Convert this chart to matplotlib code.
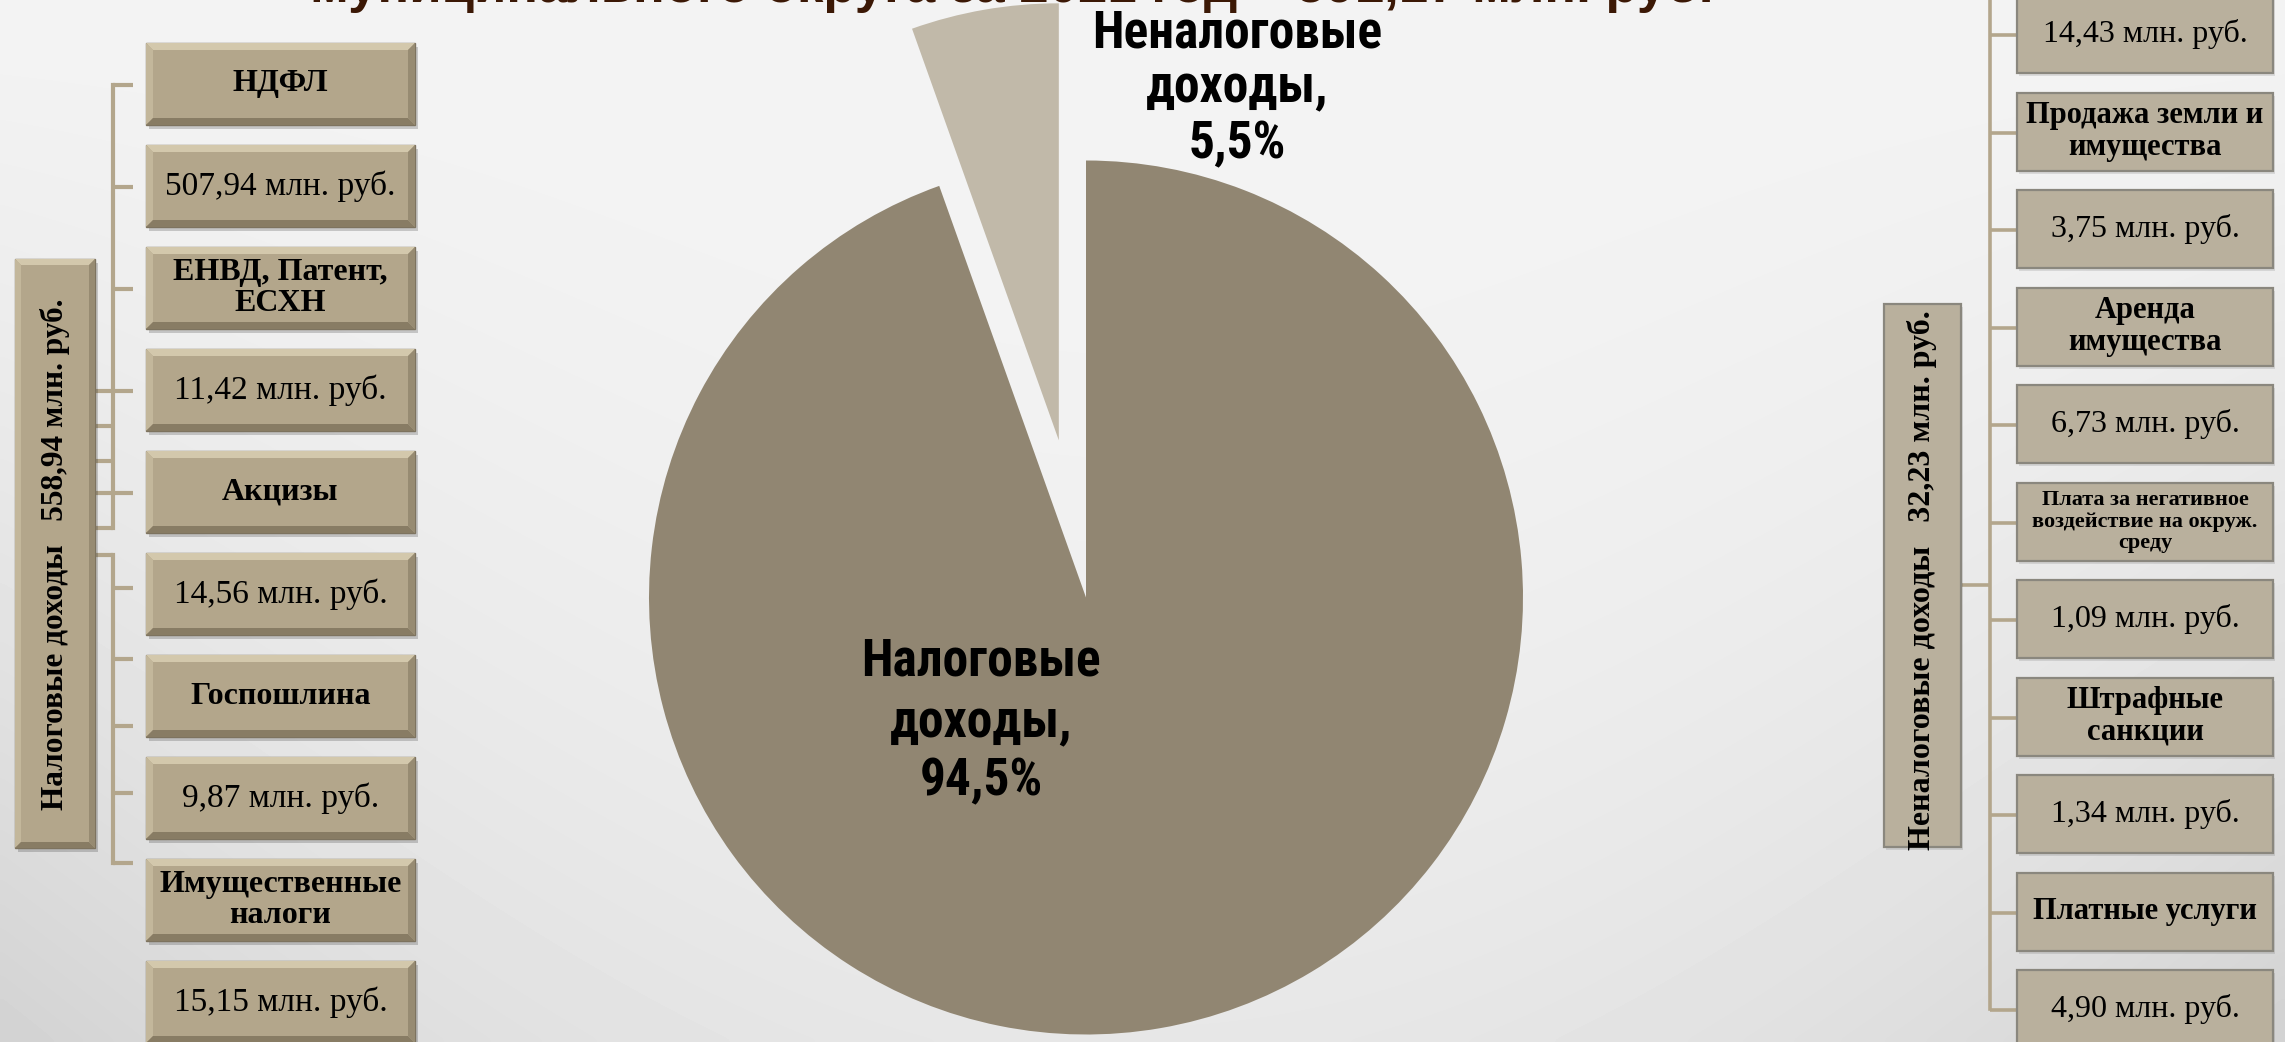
import numpy as np
import matplotlib
matplotlib.use('Agg')
import matplotlib.pyplot as plt
from matplotlib.patches import Rectangle, Polygon
from matplotlib import font_manager as fm

# ---------------- data ----------------
pie_categories = ['Налоговые доходы', 'Неналоговые доходы']
pie_values = [558.94, 32.23]
pie_colors = ['#918672', '#c1b9a9']

tax_labels = ['НДФЛ', 'ЕНВД, Патент,\nЕСХН', 'Акцизы', 'Госпошлина', 'Имущественные\nналоги']
tax_values = [507.94, 11.42, 14.56, 9.87, 15.15]

nontax_labels = ['Продажа земли и\nимущества', 'Аренда\nимущества',
                 'Плата за негативное\nвоздействие на окруж.\nсреду',
                 'Штрафные\nсанкции', 'Платные услуги']
nontax_values = [14.43, 3.75, 6.73, 1.09, 1.34, 4.90]

title_text = 'муниципального округа за 2021 год – 591,17 млн. руб.'

# ---------------- fonts ----------------
names = {f.name for f in fm.fontManager.ttflist}
cond_font = next((n for n in ['Liberation Sans Narrow', 'Roboto Condensed', 'DejaVu Sans']
                  if n in names), 'DejaVu Sans')
serif = ['Liberation Serif', 'DejaVu Serif']


def fmt(v):
    return f"{v:.2f}".replace('.', ',') + ' млн. руб.'


W, H = 2285, 1042
fig = plt.figure(figsize=(W / 100, H / 100), dpi=100)
ax = fig.add_axes([0, 0, 1, 1])

# background gradient
yy, xx = np.mgrid[0:1:200j, 0:1:400j]
bg = 0.955 - 0.05 * yy ** 2 - 0.08 * (np.abs(xx - 0.5) * 2) ** 2 * yy
ax.imshow(bg, cmap='gray', vmin=0, vmax=1, extent=(0, W, 0, H), origin='upper',
          aspect='auto', zorder=0, interpolation='bicubic')

# ---------------- pie ----------------
cx, cy, R = 1086, H - 597.5, 437
wedges, _ = ax.pie(pie_values, colors=pie_colors, startangle=90, counterclock=False,
                   explode=[0, 0.365 * R], center=(cx, cy), radius=R,
                   wedgeprops=dict(linewidth=0))
for w in wedges:
    w.set_zorder(2)

total = sum(pie_values)
pct = [f"{v / total * 100:.1f}".replace('.', ',') + '%' for v in pie_values]
cats = [c.split(' ') for c in pie_categories]
cond_kw = dict(fontfamily=cond_font, fontweight='bold', color='black', ha='center',
               va='center', zorder=6)
if cond_font == 'DejaVu Sans':
    cond_kw['fontstretch'] = 'condensed'
# tax label (inside big slice)
for txt, yt in zip([cats[0][0], cats[0][1] + ',', pct[0]], [662, 723, 781]):
    ax.text(981, H - yt, txt, fontsize=37, **cond_kw)
# non-tax label (outside, top)
for txt, yt in zip([cats[1][0], cats[1][1] + ',', pct[1]], [33, 88, 144]):
    ax.text(1237, H - yt, txt, fontsize=37, **cond_kw)

# ---------------- title (cut at top) ----------------
ax.text(1012, H - 2, title_text, fontsize=38, fontweight='bold', color='#3b1805',
        fontfamily=['Liberation Sans', 'DejaVu Sans'], ha='center', va='baseline', zorder=5)


# ---------------- helpers ----------------
def bevel_box(x0, top, w, h, b=7):
    y1 = H - top
    y0 = y1 - h
    x1 = x0 + w
    ax.add_patch(Rectangle((x0 + 3, y0 - 4), w, h, fc='black', alpha=0.18, lw=0, zorder=3))
    ax.add_patch(Rectangle((x0, y0), w, h, fc='#b3a68b', ec='#7d735f', lw=1, zorder=3))
    ax.add_patch(Polygon([(x0, y1), (x1, y1), (x1 - b, y1 - b), (x0 + b, y1 - b)],
                         fc='#d3c8ac', lw=0, zorder=4))
    ax.add_patch(Polygon([(x0, y0), (x0, y1), (x0 + b, y1 - b), (x0 + b, y0 + b)],
                         fc='#c3b79b', lw=0, zorder=4))
    ax.add_patch(Polygon([(x0, y0), (x1, y0), (x1 - b, y0 + b), (x0 + b, y0 + b)],
                         fc='#887c64', lw=0, zorder=4))
    ax.add_patch(Polygon([(x1, y0), (x1, y1), (x1 - b, y1 - b), (x1 - b, y0 + b)],
                         fc='#978b72', lw=0, zorder=4))


def flat_box(x0, top, w, h):
    y1 = H - top
    y0 = y1 - h
    ax.add_patch(Rectangle((x0 + 2, y0 - 3), w, h, fc='black', alpha=0.10, lw=0, zorder=3))
    ax.add_patch(Rectangle((x0, y0), w, h, fc='#b9b09d', ec='#8a877e', lw=1.6, zorder=3))


line_c = '#b3a68c'


def hline(x0, x1, yt, lw=3.0):
    ax.plot([x0, x1], [H - yt, H - yt], color=line_c, lw=lw, solid_capstyle='butt', zorder=2)


def vline(x, yt0, yt1, lw=3.0):
    ax.plot([x, x], [H - yt0, H - yt1], color=line_c, lw=lw, solid_capstyle='projecting', zorder=2)


# ---------------- left column ----------------
lx0, lw_, lh = 146, 269, 82
left_items = []
for lab, val in zip(tax_labels, tax_values):
    left_items.append((lab, True))
    left_items.append((fmt(val), False))
for i, (txt, bold) in enumerate(left_items):
    top = 43 + 102 * i
    bevel_box(lx0, top, lw_, lh)
    ax.text(lx0 + lw_ / 2, H - (top + lh / 2), txt, fontsize=23 if bold else 24,
            fontweight='bold' if bold else 'normal', fontfamily=serif,
            ha='center', va='center', linespacing=1.12, zorder=6)

# left vertical label
bevel_box(15, 259, 80, 589, b=6)
ax.text(55, H - 554, f"{pie_categories[0]}   {fmt(pie_values[0])}", rotation=90,
        fontsize=22.5, fontweight='bold', fontfamily=serif, ha='center', va='center', zorder=6)

# left connectors
vline(113, 85, 528)
for yt in [85, 187, 289, 391, 493]:
    hline(113, 133, yt)
for yt in [391, 426, 461, 493, 528]:
    hline(96, 113, yt)
hline(96, 113, 555)
vline(113, 555, 863)
for yt in [588, 659, 726, 793, 863]:
    hline(113, 133, yt)

# ---------------- right column ----------------
rx0, rw, rh = 2017, 256, 78
right_items = [(fmt(nontax_values[0]), 'val')]
for lab, val in zip(nontax_labels, nontax_values[1:]):
    right_items.append((lab, 'lab'))
    right_items.append((fmt(val), 'val'))
for i, (txt, kind) in enumerate(right_items):
    top = -5 + 97.5 * i
    flat_box(rx0, top, rw, rh)
    if kind == 'val':
        fs, fw, ls = 23, 'normal', 1.0
    elif txt.count('\n') >= 2:
        fs, fw, ls = 16, 'bold', 1.08
    else:
        fs, fw, ls = 22, 'bold', 1.12
    ax.text(rx0 + rw / 2, H - (top + rh / 2), txt, fontsize=fs, fontweight=fw,
            fontfamily=serif, ha='center', va='center', linespacing=ls, zorder=6)
    hline(1990, 2017, top + rh / 2 + 1, lw=2.6)

flat_box(1884, 304, 77, 543)
ax.text(1922, H - 580, f"{pie_categories[1]}   {fmt(pie_values[1])}", rotation=90,
        fontsize=23, fontweight='bold', fontfamily=serif, ha='center', va='center', zorder=6)
vline(1990, -2, 1009, lw=2.6)
hline(1961, 1990, 585, lw=2.6)

ax.set_xlim(0, W)
ax.set_ylim(0, H)
ax.set_aspect('auto')
ax.axis('off')
fig.savefig('out.png', dpi=100)
